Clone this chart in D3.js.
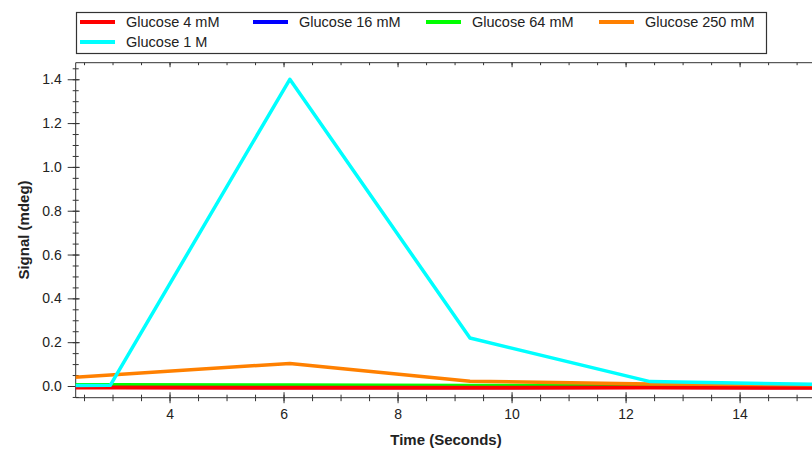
<!DOCTYPE html>
<html>
<head>
<meta charset="utf-8">
<script src="https://cdn.jsdelivr.net/npm/d3@7"></script>
<style>
  body { margin: 0; background: #fff; }
  svg { display: block; font-family: "Liberation Sans", Arial, sans-serif; }
  .axis path, .axis line { stroke: #333; }
  .axis text { fill: #222; font-size: 14px; }
  .title { font-size: 15px; font-weight: bold; fill: #222; }
  .legend text { font-size: 14.5px; fill: #222; }
</style>
</head>
<body>
<svg id="chart" width="812" height="450"></svg>
<script>
// data
var times = [-0.19, 2.96, 6.11, 9.27, 12.43, 15.58];
var seriesNames = ["Glucose 4 mM", "Glucose 16 mM", "Glucose 64 mM", "Glucose 250 mM", "Glucose 1 M"];
var seriesColors = ["#ff0000", "#0000ff", "#00ff00", "#ff8000", "#00ffff"];
var glc4 = [-0.006, -0.007, -0.008, -0.008, -0.007, -0.008];
var glc16 = [-0.004, -0.006, -0.007, -0.007, -0.006, -0.007];
var glc64 = [0.004, 0.006, 0.004, 0.002, 0.001, 0.0];
var glc250 = [0.0, 0.05, 0.103, 0.022, 0.009, 0.005];
var glc1M = [0.0, 0.003, 1.40, 0.219, 0.02, 0.007];
var xTicks = [4, 6, 8, 10, 12, 14];
var yTicks = [0.0, 0.2, 0.4, 0.6, 0.8, 1.0, 1.2, 1.4];

var seriesValues = [glc4, glc16, glc64, glc250, glc1M];
var drawOrder = [1, 2, 0, 3, 4];

var svg = d3.select("#chart"),
    plot = { left: 75.7, right: 812, top: 62.7, bottom: 397.7 };

var x = d3.scaleLinear().domain([2.354, 15.27]).range([plot.left, plot.right]);
var y = d3.scaleLinear().domain([-0.0534, 1.4756]).range([plot.bottom, plot.top]);

var xMinor = d3.range(2.5, 15.3, 0.5);
var yMinor = d3.range(-0.05, 1.48, 0.05);

svg.append("defs").append("clipPath").attr("id", "clip")
  .append("rect")
  .attr("x", plot.left).attr("y", plot.top)
  .attr("width", plot.right - plot.left).attr("height", plot.bottom - plot.top);

// axis helper: ticks crossing the axis line
function tickAxis(maker, scale, values, outer, inner, labels) {
  var a = maker(scale).tickValues(values).tickSizeInner(outer).tickSizeOuter(0);
  if (!labels) a.tickFormat("");
  return a;
}

// bottom axis
var gx = svg.append("g").attr("class", "axis").attr("transform", "translate(0," + plot.bottom + ")");
gx.append("g").call(tickAxis(d3.axisBottom, x, xMinor, 3.5, 0, false));
gx.append("g").call(tickAxis(d3.axisTop, x, xMinor, 3, 0, false)).select(".domain").remove();
gx.append("g").call(tickAxis(d3.axisBottom, x, xTicks, 5.5, 0, true).tickPadding(6).tickFormat(d3.format("d")))
  .select(".domain").remove();
gx.append("g").call(tickAxis(d3.axisTop, x, xTicks, 5.5, 0, false)).select(".domain").remove();

// top axis (mirror, inside ticks)
var gt = svg.append("g").attr("class", "axis").attr("transform", "translate(0," + plot.top + ")");
gt.append("g").call(tickAxis(d3.axisBottom, x, xMinor, 2.5, 0, false));
gt.append("g").call(tickAxis(d3.axisBottom, x, xTicks, 4.5, 0, false)).select(".domain").remove();

// left axis
var gy = svg.append("g").attr("class", "axis").attr("transform", "translate(" + plot.left + ",0)");
gy.append("g").call(tickAxis(d3.axisLeft, y, yMinor, 3, 0, false));
gy.append("g").call(tickAxis(d3.axisRight, y, yMinor, 3, 0, false)).select(".domain").remove();
gy.append("g").call(tickAxis(d3.axisLeft, y, yTicks, 8, 0, true).tickPadding(6).tickFormat(d3.format(".1f")))
  .select(".domain").remove();
gy.append("g").call(tickAxis(d3.axisRight, y, yTicks, 4, 0, false)).select(".domain").remove();
gy.selectAll(".domain").attr("d", "M0," + plot.top + "V" + plot.bottom);
gx.selectAll(".domain").attr("d", "M" + plot.left + ",0H" + plot.right);
gt.selectAll(".domain").attr("d", "M" + plot.left + ",0H" + plot.right);

// lines
var line = d3.line()
  .x(function(d, i) { return x(times[i]); })
  .y(function(d) { return y(d); });

var gl = svg.append("g").attr("clip-path", "url(#clip)");
drawOrder.forEach(function(k) {
  gl.append("path")
    .attr("d", line(seriesValues[k]))
    .attr("fill", "none")
    .attr("stroke", seriesColors[k])
    .attr("stroke-width", k === 0 ? 4 : 3.5)
    .attr("stroke-linejoin", "round");
});

// titles
svg.append("text").attr("class", "title")
  .attr("x", 446).attr("y", 445).attr("text-anchor", "middle")
  .text("Time (Seconds)");
svg.append("text").attr("class", "title")
  .attr("transform", "translate(29,230) rotate(-90)").attr("text-anchor", "middle")
  .text("Signal (mdeg)");

// legend
var lg = svg.append("g").attr("class", "legend");
lg.append("rect")
  .attr("x", 76.5).attr("y", 12.5).attr("width", 690).attr("height", 41)
  .attr("fill", "#fff").attr("stroke", "#333").attr("stroke-width", 1.2);
seriesNames.forEach(function(name, i) {
  var col = i % 4, row = Math.floor(i / 4),
      lx = 80 + col * 173, ly = 22 + row * 20;
  lg.append("line")
    .attr("x1", lx).attr("x2", lx + 35).attr("y1", ly).attr("y2", ly)
    .attr("stroke", seriesColors[i]).attr("stroke-width", 4);
  lg.append("text")
    .attr("x", lx + 46).attr("y", ly + 5)
    .text(name);
});
</script>
</body>
</html>
